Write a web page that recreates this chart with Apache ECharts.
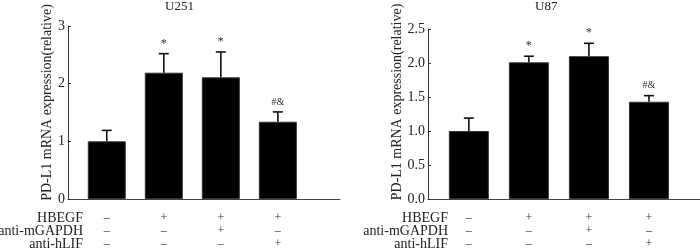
<!DOCTYPE html>
<html>
<head>
<meta charset="utf-8">
<script src="https://cdn.jsdelivr.net/npm/echarts@6/dist/echarts.min.js"></script>
<style>
  html, body { margin: 0; padding: 0; background: #fff; }
  #main { width: 700px; height: 249px; }
</style>
</head>
<body>
<div id="main"></div>
<script>
var myChart = echarts.init(document.getElementById('main'));

var groups = [1, 2, 3, 4];
var rowNames = ['HBEGF', 'anti-mGAPDH', 'anti-hLIF'];
var hbegf = ['–', '+', '+', '+'];
var gapdh = ['–', '–', '+', '–'];
var hlif  = ['–', '–', '–', '+'];
var marks = ['', '*', '*', '#&'];

var u251Mean = [1.00, 2.19, 2.11, 1.34];
var u251Err  = [0.19, 0.33, 0.44, 0.17];
var u87Mean  = [1.00, 2.01, 2.10, 1.43];
var u87Err   = [0.19, 0.09, 0.19, 0.09];

var serif = 'Liberation Serif';
var ink = '#222';
var signRows = [hbegf, gapdh, hlif];
var rowOffsets = [19, 32, 45];

function barData(mean) {
    return groups.map(function (g, i) { return [g, mean[i]]; });
}
function errData(mean, err) {
    return groups.map(function (g, i) { return [g, mean[i], mean[i] + err[i]]; });
}

function errorBars(params, api) {
    var top = api.coord([api.value(0), api.value(2)]);
    var base = api.coord([api.value(0), api.value(1)]);
    var style = { stroke: '#111', lineWidth: 1.6 };
    var mark = marks[params.dataIndex];
    return {
        type: 'group',
        children: [
            { type: 'line', shape: { x1: base[0], y1: base[1], x2: top[0], y2: top[1] }, style: style },
            { type: 'line', shape: { x1: top[0] - 5, y1: top[1], x2: top[0] + 5, y2: top[1] }, style: style },
            { type: 'text', x: top[0], y: top[1] - 10, style: {
                text: mark, fill: '#333', font: (mark === '*' ? '12px ' : '10px ') + serif,
                align: 'center', verticalAlign: 'middle' } }
        ]
    };
}

// one bar x-axis plus three sign rows per grid
function xAxes(gridIndex, min, max) {
    var list = [{
        gridIndex: gridIndex, type: 'value', min: min, max: max,
        axisLine: { show: true, onZero: false, lineStyle: { color: '#444', width: 1 } },
        axisTick: { show: false }, axisLabel: { show: false }, splitLine: { show: false }
    }];
    rowOffsets.forEach(function (off, r) {
        list.push({
            gridIndex: gridIndex, type: 'value', min: min, max: max, position: 'bottom', offset: off,
            axisLine: { show: false }, axisTick: { show: false }, splitLine: { show: false },
            axisLabel: {
                customValues: groups, margin: 0, verticalAlign: 'middle',
                fontFamily: serif, fontSize: 12, color: '#333',
                formatter: function (v) { return signRows[r][Math.round(v) - 1]; }
            }
        });
    });
    return list;
}

// row captions, right-aligned a little past each y-axis
function rowCaptions(right) {
    return rowNames.map(function (name, r) {
        return {
            type: 'text', x: right, y: 199 + rowOffsets[r],
            style: { text: name, fill: ink, font: '14px ' + serif, align: 'right', verticalAlign: 'middle' }
        };
    });
}

function yAxis(gridIndex, max, interval, digits, gap, pad) {
    return {
        gridIndex: gridIndex, type: 'value', min: 0, max: max, interval: interval,
        name: 'PD-L1 mRNA expression(relative)', nameLocation: 'middle', nameGap: gap,
        nameMoveOverlap: false,
        nameTextStyle: { fontFamily: serif, fontSize: 14, color: ink, padding: [0, 0, 0, pad] },
        axisLine: { show: true, lineStyle: { color: '#333', width: 1 } },
        axisTick: { show: true, inside: true, length: 3, lineStyle: { color: '#333' } },
        axisLabel: { margin: 3, fontFamily: serif, fontSize: 14, color: ink,
            formatter: function (v) { return v.toFixed(digits); } },
        splitLine: { show: false }
    };
}

option = {
    backgroundColor: '#fff',
    animation: false,
    title: [
        { text: 'U251', left: 165, top: 0, padding: 0,
          textStyle: { fontFamily: serif, fontSize: 13, fontWeight: 'normal', color: ink } },
        { text: 'U87', left: 535, top: 0, padding: 0,
          textStyle: { fontFamily: serif, fontSize: 13, fontWeight: 'normal', color: ink } }
    ],
    graphic: rowCaptions(83).concat(rowCaptions(448)),
    grid: [
        { left: 68, top: 26, width: 272, bottom: 50, outerBoundsMode: 'none' },
        { left: 428, top: 29, right: 0, bottom: 50, outerBoundsMode: 'none' }
    ],
    xAxis: xAxes(0, 0.32, 5.09).concat(xAxes(1, 0.32, 4.85)),
    yAxis: [yAxis(0, 3, 1, 0, 14, 20), yAxis(1, 2.5, 0.5, 1, 24, 24)],
    series: [
        { type: 'bar', xAxisIndex: 0, yAxisIndex: 0, barWidth: 38, data: barData(u251Mean),
          itemStyle: { color: '#000', borderColor: '#333', borderWidth: 1 } },
        { type: 'custom', xAxisIndex: 0, yAxisIndex: 0, renderItem: errorBars, data: errData(u251Mean, u251Err), z: 3 },
        { type: 'bar', xAxisIndex: 4, yAxisIndex: 1, barWidth: 40, data: barData(u87Mean),
          itemStyle: { color: '#000', borderColor: '#333', borderWidth: 1 } },
        { type: 'custom', xAxisIndex: 4, yAxisIndex: 1, renderItem: errorBars, data: errData(u87Mean, u87Err), z: 3 }
    ]
};
myChart.setOption(option);
</script>
</body>
</html>
